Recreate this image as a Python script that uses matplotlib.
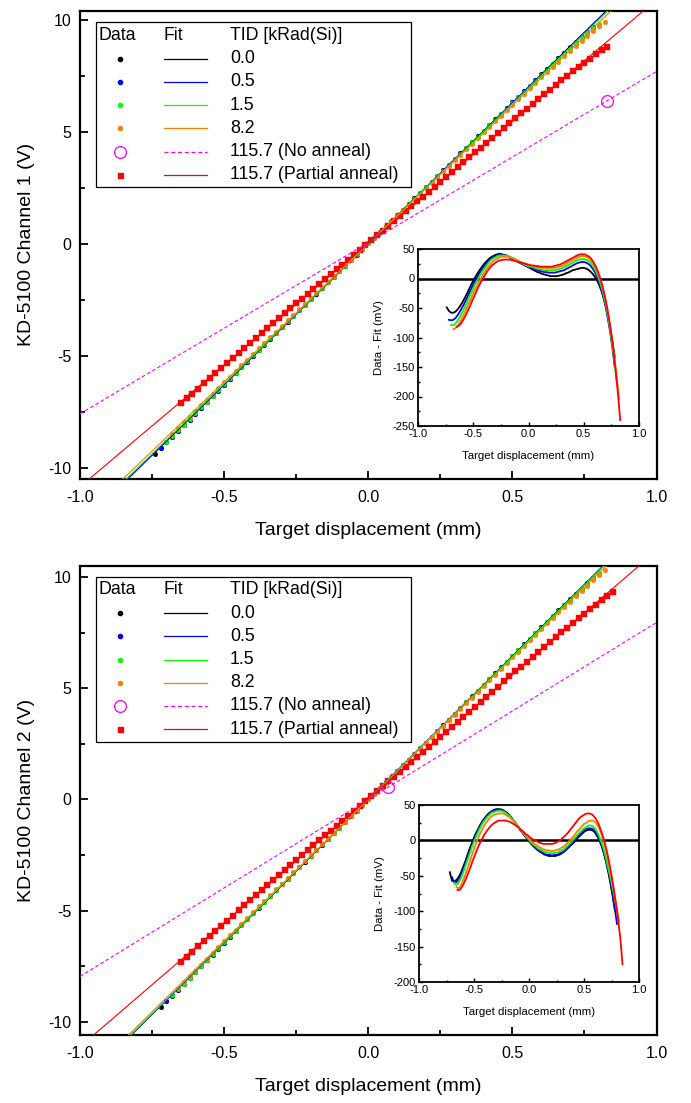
import numpy as np
import matplotlib
matplotlib.use("Agg")
import matplotlib.pyplot as plt
from matplotlib.lines import Line2D
from matplotlib.patches import Rectangle
from matplotlib.ticker import MultipleLocator, FormatStrFormatter

plt.rcParams['font.family'] = ['Liberation Sans', 'DejaVu Sans']

W, H = 691, 1103
fig = plt.figure(figsize=(W / 100, H / 100), dpi=100)

# ---------------------------------------------------------------- series
tid_labels = ["0.0", "0.5", "1.5", "8.2", "115.7 (No anneal)", "115.7 (Partial anneal)"]
series_colors = ["#000000", "#0000FF", "#00FF00", "#FF8000", "#FF00FF", "#FF0000"]
data_markers = ["o", "o", "o", "o", "o", "s"]
STEP = 0.02  # mm between samples

# Channel 1: linear fit (V/mm, V) for each dose
ch1_slope = [12.60, 12.58, 12.52, 12.35, 7.65, 10.88]
ch1_offset = [0.00, 0.00, 0.00, 0.00, 0.05, 0.02]
# first sampled displacement (mm) of each residual series
ch1_start = {0: -0.74, 1: -0.72, 2: -0.70, 3: -0.68, 5: -0.65}
# residual Data - Fit (mV)
ch1_res_0 = [-49, -55, -58, -58, -56, -52, -47, -41, -34, -27,
             -19, -11, -4, 3, 9, 15, 20, 25, 29, 33,
             36, 38, 40, 41, 42, 41, 40, 39, 37, 35,
             33, 31, 29, 27, 25, 23, 21, 19, 17, 15,
             13, 11, 10, 8, 7, 6, 5, 4, 4, 4,
             4, 5, 6, 7, 9, 10, 12, 14, 15, 16,
             17, 18, 18, 17, 15, 12, 8, 3, -3, -11,
             -21, -33, -47, -64, -84, -107, -133]
ch1_res_05 = [-70, -71, -70, -67, -62, -56, -49, -42, -34, -26,
              -18, -10, -3, 4, 10, 16, 21, 26, 30, 33,
              36, 38, 39, 40, 40, 40, 39, 37, 35, 33,
              31, 29, 27, 25, 23, 21, 20, 18, 17, 15,
              14, 13, 12, 11, 11, 10, 10, 10, 10, 11,
              12, 13, 14, 16, 18, 20, 22, 24, 26, 27,
              28, 28, 27, 25, 22, 17, 11, 3, -7, -19,
              -33, -50, -70, -92, -118, -150]
ch1_res_15 = [-79, -79, -76, -71, -65, -58, -50, -42, -33, -25,
              -17, -9, -2, 5, 11, 17, 22, 27, 31, 34,
              36, 38, 39, 39, 39, 39, 38, 36, 34, 32,
              30, 28, 26, 24, 22, 21, 20, 19, 18, 17,
              16, 15, 14, 14, 14, 14, 14, 14, 15, 16,
              17, 19, 21, 23, 25, 27, 29, 31, 32, 33,
              33, 32, 30, 27, 22, 16, 8, -2, -14, -28,
              -45, -65, -88, -114, -144, -178]
ch1_res_82 = [-86, -84, -80, -74, -67, -59, -51, -42, -34, -25,
              -17, -10, -3, 4, 10, 16, 21, 25, 29, 32,
              34, 36, 37, 37, 37, 37, 36, 35, 33, 31,
              29, 27, 26, 24, 23, 22, 21, 20, 19, 19,
              18, 18, 18, 18, 18, 18, 18, 19, 20, 21,
              23, 25, 27, 29, 31, 33, 35, 37, 38, 38,
              37, 35, 32, 27, 21, 13, 3, -9, -23, -40,
              -60, -83, -109, -138, -170, -205]
ch1_res_1157p = [-82, -80, -76, -70, -63, -55, -47, -38, -30, -21,
                 -13, -6, 1, 7, 13, 18, 22, 25, 28, 30,
                 31, 32, 32, 32, 32, 31, 30, 29, 28, 27,
                 26, 25, 24, 23, 22, 22, 21, 21, 20, 20,
                 20, 20, 20, 20, 21, 22, 23, 24, 26, 28,
                 30, 32, 34, 36, 38, 40, 41, 41, 41, 39,
                 37, 33, 27, 20, 11, 0, -13, -29, -48, -70,
                 -95, -124, -158, -196, -240]
ch1_res = {0: ch1_res_0, 1: ch1_res_05, 2: ch1_res_15, 3: ch1_res_82, 5: ch1_res_1157p}
# single reading without anneal
ch1_noanneal_x = [0.83]
ch1_noanneal_v = [6.40]

# Channel 2
ch2_slope = [12.88, 12.86, 12.84, 12.72, 7.95, 11.14]
ch2_offset = [0.00, 0.00, 0.00, 0.00, 0.00, 0.03]
ch2_start = {0: -0.72, 1: -0.70, 2: -0.68, 3: -0.66, 5: -0.65}
ch2_res_0 = [-45, -57, -58, -56, -52, -46, -38, -30, -21, -12,
             -4, 4, 11, 17, 23, 28, 32, 36, 39, 41,
             43, 44, 44, 44, 43, 41, 39, 36, 32, 28,
             24, 20, 15, 11, 7, 3, -1, -5, -8, -11,
             -14, -16, -18, -20, -21, -22, -22, -22, -22, -21,
             -20, -18, -16, -13, -10, -7, -4, -1, 3, 6,
             9, 12, 14, 15, 15, 14, 11, 6, 0, -8,
             -18, -30, -44, -60, -78, -98]
ch2_res_05 = [-52, -60, -59, -55, -49, -41, -33, -24, -15, -7,
              1, 9, 15, 21, 27, 31, 35, 38, 41, 42,
              43, 44, 43, 42, 41, 38, 35, 32, 28, 24,
              20, 15, 11, 7, 3, -1, -4, -8, -11, -13,
              -15, -17, -19, -20, -20, -21, -21, -20, -20, -18,
              -17, -15, -12, -9, -6, -2, 1, 5, 8, 11,
              14, 16, 17, 17, 16, 13, 8, 2, -6, -16,
              -28, -42, -58, -76, -96, -118]
ch2_res_15 = [-60, -63, -60, -54, -46, -37, -28, -19, -10, -2,
              6, 13, 19, 25, 29, 33, 36, 39, 40, 41,
              42, 42, 41, 40, 37, 35, 31, 28, 24, 20,
              16, 12, 8, 4, 1, -3, -6, -8, -11, -13,
              -14, -16, -17, -17, -18, -18, -17, -17, -15, -14,
              -12, -9, -6, -3, 1, 4, 8, 11, 14, 17,
              19, 21, 21, 20, 17, 12, 5, -3, -13, -25,
              -39, -52, -67, -83, -100]
ch2_res_82 = [-66, -68, -64, -57, -49, -40, -31, -21, -12, -4,
              4, 11, 17, 23, 27, 31, 34, 36, 37, 38,
              38, 38, 37, 35, 33, 30, 27, 23, 20, 16,
              12, 9, 5, 2, -1, -4, -6, -8, -10, -12,
              -13, -14, -14, -15, -15, -14, -13, -12, -10, -8,
              -5, -2, 2, 5, 9, 13, 16, 20, 23, 25,
              27, 28, 28, 26, 22, 16, 8, -2, -14, -28,
              -44, -61, -79, -97, -115]
ch2_res_1157p = [-70, -70, -66, -60, -53, -45, -37, -28, -20, -12,
                 -5, 1, 7, 12, 16, 20, 23, 25, 27, 28,
                 28, 28, 28, 27, 26, 24, 22, 20, 17, 15,
                 12, 9, 7, 4, 2, 0, -1, -3, -4, -5,
                 -5, -5, -5, -5, -4, -3, -1, 1, 4, 7,
                 10, 14, 18, 22, 26, 30, 33, 35, 37, 38,
                 38, 37, 34, 30, 24, 16, 7, -4, -17, -32,
                 -49, -68, -89, -112, -138, -175]
ch2_res = {0: ch2_res_0, 1: ch2_res_05, 2: ch2_res_15, 3: ch2_res_82, 5: ch2_res_1157p}
ch2_noanneal_x = [0.07]
ch2_noanneal_v = [0.56]


def fig_rect(left, top, right, bottom):
    """Pixel box (from the top-left corner) -> figure fraction rect."""
    return [left / W, 1 - bottom / H, (right - left) / W, (bottom - top) / H]


def style_axes(ax, major_len, minor_len, width, labelsize, pad):
    for s in ax.spines.values():
        s.set_linewidth(width)
    ax.tick_params(which="both", direction="in", top=False, right=False,
                   labelsize=labelsize, width=width * 0.8, pad=pad)
    ax.tick_params(which="major", length=major_len)
    ax.tick_params(which="minor", length=minor_len)


def draw_channel(top, bottom, inset_box, slope, offset, start, res,
                 na_x, na_v, ylim, ylabel, inset_ylim):
    ax = fig.add_axes(fig_rect(80, top, 656.5, bottom))
    ax.set_xlim(-1.0, 1.0)
    ax.set_ylim(*ylim)
    style_axes(ax, 5.8, 3.3, 1.6, 11.5, 6)
    ax.tick_params(axis="x", pad=8)
    ax.xaxis.set_major_locator(MultipleLocator(0.5))
    ax.xaxis.set_minor_locator(MultipleLocator(0.25))
    ax.yaxis.set_major_locator(MultipleLocator(5))
    ax.yaxis.set_minor_locator(MultipleLocator(2.5))
    ax.xaxis.set_major_formatter(FormatStrFormatter("%.1f"))
    ax.yaxis.set_major_formatter(FormatStrFormatter("%d"))
    ax.set_xlabel("Target displacement (mm)", fontsize=14, labelpad=12.5)
    ax.set_ylabel(ylabel, fontsize=14, labelpad=10)

    xfit = np.array([-1.0, 1.0])
    order = [0, 1, 2, 3, 5]
    # measured points = fit + residual
    for i in order:
        r = np.array(res[i], dtype=float)
        x = start[i] + STEP * np.arange(len(r))
        v = slope[i] * x + offset[i] + r / 1000.0
        ms = 3.8 if data_markers[i] == "s" else 3.3
        ax.plot(x, v, ls="none", marker=data_markers[i], ms=ms,
                mfc=series_colors[i], mec=series_colors[i], mew=0.3, zorder=3)
    ax.plot(na_x, na_v, ls="none", marker="o", ms=8.5, mfc="none",
            mec=series_colors[4], mew=0.9, zorder=3)
    # fitted lines
    for i in range(6):
        ls = (0, (3.2, 2.2)) if i == 4 else "-"
        ax.plot(xfit, slope[i] * xfit + offset[i], color=series_colors[i],
                lw=0.8, ls=ls, zorder=4)

    # residual inset
    ins = fig.add_axes(fig_rect(*inset_box))
    ins.set_xlim(-1.0, 1.0)
    ins.set_ylim(*inset_ylim)
    style_axes(ins, 3.0, 1.6, 1.3, 8, 2.5)
    ins.xaxis.set_major_locator(MultipleLocator(0.5))
    ins.xaxis.set_minor_locator(MultipleLocator(0.25))
    ins.yaxis.set_major_locator(MultipleLocator(50))
    ins.yaxis.set_minor_locator(MultipleLocator(25))
    ins.xaxis.set_major_formatter(FormatStrFormatter("%.1f"))
    ins.yaxis.set_major_formatter(FormatStrFormatter("%d"))
    ins.axhline(0, color="black", lw=1.8, zorder=2)
    for i in order:
        r = np.array(res[i], dtype=float)
        x = start[i] + STEP * np.arange(len(r))
        ins.plot(x, r, color=series_colors[i], lw=1.3, zorder=3)
    ins.set_xlabel("Target displacement (mm)", fontsize=8.2, labelpad=8)
    ins.set_ylabel("Data - Fit (mV)", fontsize=8.2, labelpad=6)

    # legend: Data | Fit | TID columns
    lx0, lx1 = 96, 411
    ly0, ly1 = top + 11, top + 176
    fig.add_artist(Rectangle((lx0 / W, 1 - ly1 / H), (lx1 - lx0) / W,
                             (ly1 - ly0) / H, transform=fig.transFigure,
                             facecolor="white", edgecolor="black", lw=0.9))
    hy = 1 - (top + 24.5) / H
    fig.text(99 / W, hy, "Data", fontsize=12.8, va="center", ha="left")
    fig.text(163.5 / W, hy, "Fit", fontsize=12.8, va="center", ha="left")
    fig.text(230 / W, hy, "TID [kRad(Si)]", fontsize=12.8, va="center", ha="left")
    for k in range(6):
        yy = 1 - (top + 47.5 + 23.25 * k) / H
        if k == 4:
            fig.add_artist(Line2D([119.5 / W], [yy], transform=fig.transFigure,
                                  ls="none", marker="o", ms=8.5, mfc="none",
                                  mec=series_colors[k], mew=0.9))
        else:
            fig.add_artist(Line2D([119.5 / W], [yy], transform=fig.transFigure,
                                  ls="none", marker=data_markers[k],
                                  ms=3.6 if k == 5 else 3.0,
                                  mfc=series_colors[k], mec=series_colors[k]))
        fig.add_artist(Line2D([163.5 / W, 206.5 / W], [yy, yy],
                              transform=fig.transFigure, color=series_colors[k],
                              lw=0.9, ls=(0, (3.2, 2.2)) if k == 4 else "-"))
        fig.text(230 / W, yy, tid_labels[k], fontsize=12.8, va="center", ha="left")
    return ax, ins


draw_channel(11, 478.5, (418, 249, 639, 426), ch1_slope, ch1_offset, ch1_start,
             ch1_res, ch1_noanneal_x, ch1_noanneal_v, (-10.49, 10.40),
             "KD-5100 Channel 1 (V)", (-250, 50))
draw_channel(565.5, 1034.5, (419, 805, 639, 982), ch2_slope, ch2_offset, ch2_start,
             ch2_res, ch2_noanneal_x, ch2_noanneal_v, (-10.56, 10.51),
             "KD-5100 Channel 2 (V)", (-200, 50))

fig.savefig("out.png", dpi=100, facecolor="white")
